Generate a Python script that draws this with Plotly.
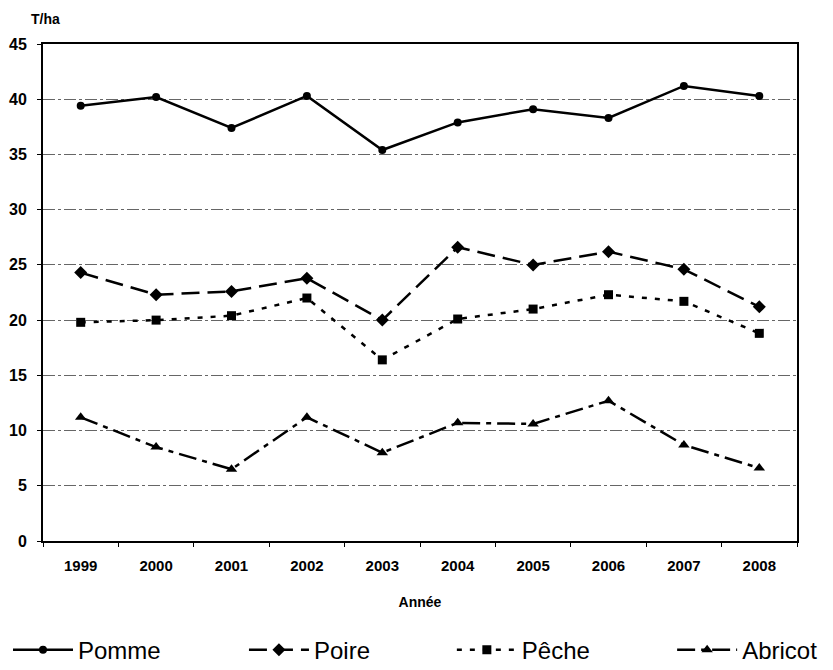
import plotly.graph_objects as go

years = ["1999", "2000", "2001", "2002", "2003", "2004", "2005", "2006", "2007", "2008"]
pomme = [39.4, 40.2, 37.4, 40.3, 35.4, 37.9, 39.1, 38.3, 41.2, 40.3]
poire = [24.3, 22.3, 22.6, 23.8, 20.0, 26.6, 25.0, 26.2, 24.6, 21.2]
peche = [19.8, 20.0, 20.4, 22.0, 16.4, 20.1, 21.0, 22.3, 21.7, 18.8]
abricot = [11.2, 8.5, 6.5, 11.2, 8.0, 10.7, 10.6, 12.7, 8.7, 6.6]
y_ticks = [0, 5, 10, 15, 20, 25, 30, 35, 40, 45]

FONT = "Liberation Sans, Arial, sans-serif"

series = [
    ("Pomme", pomme, "solid", "circle", 8, "legend", 0.0),
    ("Poire", poire, "18px,8px", "diamond", 10, "legend2", 0.286),
    ("Pêche", peche, "5px,8px", "square", 9, "legend3", 0.538),
    ("Abricot", abricot, "18px,6px,5px,6px", "triangle-up", 10, "legend4", 0.805),
]

fig = go.Figure()
legend_layout = {}
for name, vals, dash, sym, size, leg, lx in series:
    fig.add_trace(go.Scatter(
        x=years, y=vals, name=name, mode="lines+markers", legend=leg,
        line=dict(color="black", width=2.5, dash=dash),
        marker=dict(symbol=sym, size=size, color="black"),
    ))
    legend_layout[leg] = dict(
        orientation="h", xref="container", yref="container",
        x=lx, y=0.030, xanchor="left", yanchor="middle",
        font=dict(size=24, family=FONT),
        itemwidth=60,
        bgcolor="rgba(0,0,0,0)",
    )

fig.update_layout(
    width=825, height=662,
    margin=dict(l=35, r=36, t=36, b=129, autoexpand=False),
    paper_bgcolor="white", plot_bgcolor="white",
    font=dict(family=FONT, color="black"),
    showlegend=True,
    annotations=[
        dict(text="<b>T/ha</b>", xref="paper", yref="paper", x=-0.018, y=1.0,
             yshift=25, xanchor="left", yanchor="middle", showarrow=False,
             font=dict(size=14, family=FONT)),
    ],
    **legend_layout,
)

fig.update_xaxes(
    type="category", range=[-0.5, 9.5],
    showline=True, linecolor="black", linewidth=2, mirror=True,
    ticks="outside", tickson="boundaries", ticklen=4, tickcolor="black",
    tickfont=dict(size=15, family=FONT, weight="bold"),
    ticklabelstandoff=10,
    showgrid=False, automargin=False,
    title=dict(text="<b>Année</b>", font=dict(size=14, family=FONT), standoff=24),
)
fig.update_yaxes(
    range=[0, 45], tickvals=y_ticks,
    showline=True, linecolor="black", linewidth=2, mirror=True,
    ticks="outside", ticklen=4, tickcolor="black",
    tickfont=dict(size=16, family=FONT, weight="bold"),
    ticklabelstandoff=7, automargin=False,
    showgrid=True, gridcolor="#666666", gridwidth=1, griddash="12px,3px,3px,3px",
    zeroline=False,
)

fig.write_html("out.html")
